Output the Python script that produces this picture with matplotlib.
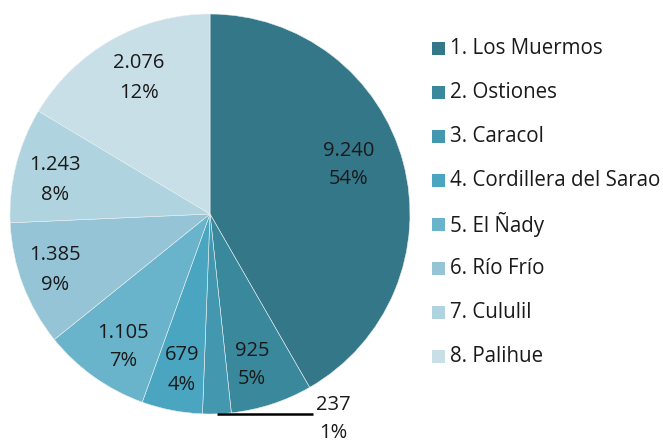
import numpy as np
import matplotlib
matplotlib.use("Agg")
import matplotlib.pyplot as plt
from matplotlib.patches import Rectangle

plt.rcParams['font.family'] = ['Open Sans', 'DejaVu Sans']

# ---- data ----
categories = ["1. Los Muermos", "2. Ostiones", "3. Caracol", "4. Cordillera del Sarao",
              "5. El Ñady", "6. Río Frío", "7. Cululil", "8. Palihue"]
value_labels = ["9.240", "925", "237", "679", "1.105", "1.385", "1.243", "2.076"]
pct_labels = ["54%", "5%", "1%", "4%", "7%", "9%", "8%", "12%"]
# slice shares as drawn in the picture (percent of the circle)
slice_shares = [41.7, 6.6, 2.3, 4.9, 8.7, 10.1, 9.3, 16.4]

colors = ["#347788", "#3a889b", "#4397ae", "#4aa6c0",
          "#69b4cb", "#94c4d5", "#afd3df", "#c8dfe7"]

# label positions in pie units (radius = 1)
label_pos = [(0.695, 0.245), (0.21, -0.755), (0.615, -1.025), (-0.14, -0.78),
             (-0.435, -0.665), (-0.775, -0.28), (-0.775, 0.17), (-0.355, 0.68)]

W, H = 663, 441
fig = plt.figure(figsize=(W / 100, H / 100), dpi=100)
cx, cy, R = 210, 214, 200
ax = fig.add_axes([(cx - R) / W, (H - cy - R) / H, 2 * R / W, 2 * R / H])
wedges, _ = ax.pie(slice_shares, colors=colors, startangle=90, counterclock=False,
                   radius=1, wedgeprops=dict(edgecolor="#e8f0f3", linewidth=0.4))
ax.set_xlim(-1, 1)
ax.set_ylim(-1, 1)
ax.set_aspect('equal')
ax.axis('off')

txtcol = "#1a1a1a"
for i, (v, p) in enumerate(zip(value_labels, pct_labels)):
    x, y = label_pos[i]
    ax.text(x, y, f"{v}\n{p}", ha='center', va='center', fontsize=14.5,
            color=txtcol, linespacing=1.6, clip_on=False)

# leader line for the small Caracol slice
w = wedges[2]
mid = np.deg2rad((w.theta1 + w.theta2) / 2)
x0, y0 = np.cos(mid), np.sin(mid)
ax.plot([x0, label_pos[2][0] - 0.1], [y0, y0], color="black", lw=1.8,
        clip_on=False, solid_capstyle='butt')

# legend
for i, (name, c) in enumerate(zip(categories, colors)):
    yc = 48.3 + 44 * i
    fig.add_artist(Rectangle((432 / W, (H - yc - 6.5) / H), 13 / W, 13 / H,
                             transform=fig.transFigure, facecolor=c, edgecolor='none'))
    fig.text(450 / W, (H - yc) / H, name, ha='left', va='center',
             fontsize=14.8, color=txtcol)

fig.savefig("out.png", dpi=100)
